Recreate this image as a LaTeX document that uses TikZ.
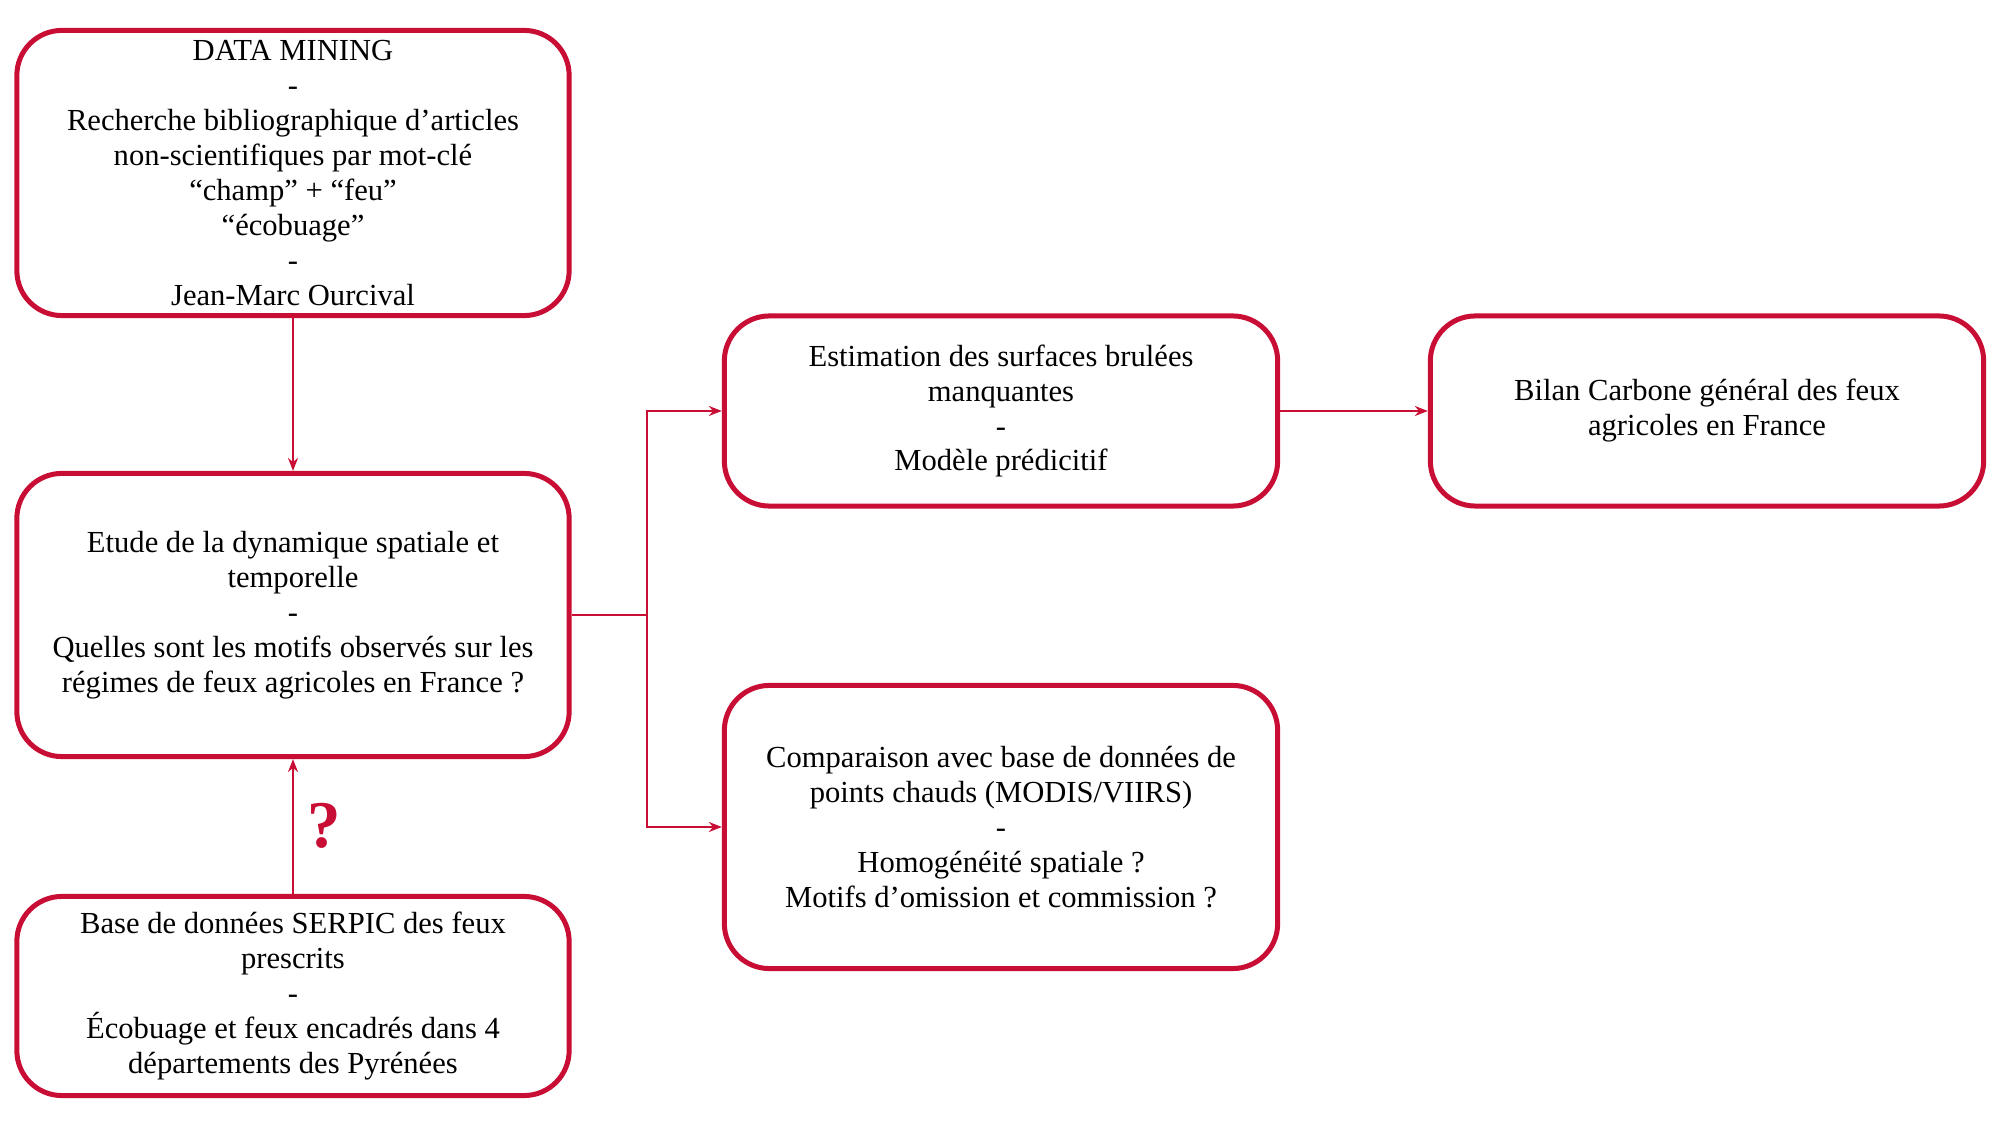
\documentclass[tikz,border=0pt]{standalone}
\usepackage{fontspec}
\setmainfont{Liberation Serif}
\usetikzlibrary{arrows.meta}
\definecolor{crim}{RGB}{200,14,52}
\tikzset{
  box/.style={draw=crim, line width=0.05cm, rounded corners=0.45cm, align=center,
    inner sep=0pt, font=\fontsize{8.7}{9.95}\selectfont, text=black, fill=white},
  conn/.style={draw=crim, line width=0.02cm},
  arr/.style={conn, -{Stealth[length=0.13cm, width=0.1cm]}}
}
\begin{document}
\begin{tikzpicture}[x=0.01cm, y=-0.01cm]
\path[use as bounding box, fill=white] (0,0) rectangle (2000,1125);

\node[box, minimum width=5.52cm, minimum height=2.85cm] (b1) at (293,173)
  {DATA MINING\\-\\Recherche bibliographique d’articles\\non-scientifiques par mot-clé\\“champ” + “feu”\\“écobuage”\\-\\Jean-Marc Ourcival};
\node[box, minimum width=5.52cm, minimum height=2.83cm] (b2) at (293,615)
  {Etude de la dynamique spatiale et\\temporelle\\-\\Quelles sont les motifs observés sur les\\régimes de feux agricoles en France ?};
\node[box, minimum width=5.52cm, minimum height=1.99cm] (b3) at (293,996)
  {Base de données SERPIC des feux\\prescrits\\-\\Écobuage et feux encadrés dans 4\\départements des Pyrénées};
\node[box, minimum width=5.53cm, minimum height=1.90cm] (b4) at (1001,411)
  {Estimation des surfaces brulées\\manquantes\\-\\Modèle prédicitif};
\node[box, minimum width=5.53cm, minimum height=1.90cm] (b5) at (1707,411)
  {Bilan Carbone général des feux\\agricoles en France};
\node[box, minimum width=5.53cm, minimum height=2.83cm] (b6) at (1001,827)
  {Comparaison avec base de données de\\points chauds (MODIS/VIIRS)\\-\\Homogénéité spatiale ?\\Motifs d’omission et commission ?};

\coordinate (j) at (647,615);
\draw[arr] (b1.south) -- (b2.north);
\draw[arr] (b3.north) -- (b2.south);
\draw[conn] (b2.east) -- (j);
\draw[arr] (j) |- (b4.west);
\draw[arr] (j) |- (b6.west);
\draw[arr] (b4.east) -- (b5.west);

\node[text=crim, font=\fontsize{19}{22}\selectfont\bfseries] (q) at (324,826) {?};
\end{tikzpicture}
\end{document}
